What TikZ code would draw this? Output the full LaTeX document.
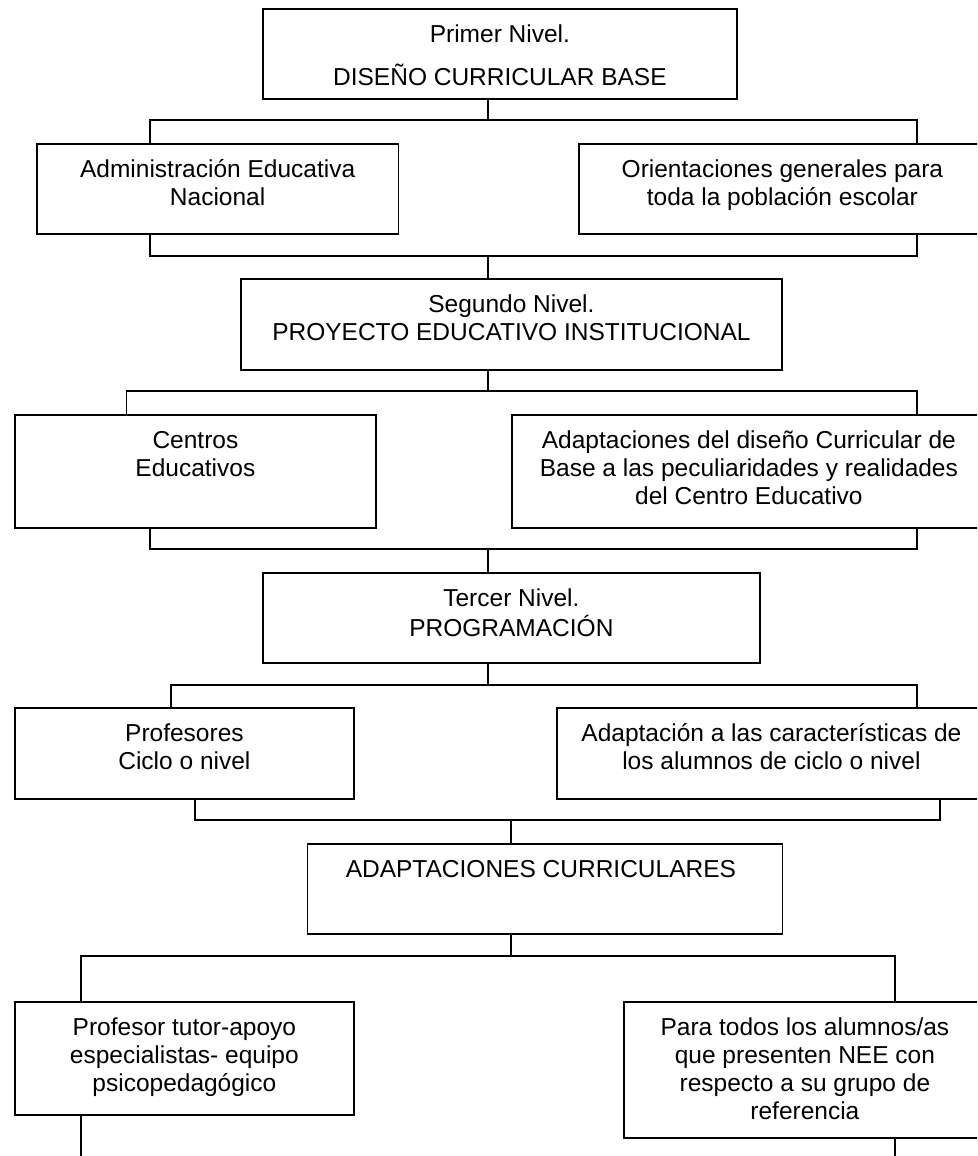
\documentclass[tikz,border=0pt]{standalone}
\usepackage{fontspec}
\setmainfont{Liberation Sans}
% fixed-height strut so every text line sits on a 28pt grid
\newcommand\lnstrut{\rule[-8pt]{0pt}{28pt}}
\begin{document}
\begin{tikzpicture}[x=1pt,y=-1pt,
  box/.style={draw, line width=1.8pt, rectangle, inner sep=0pt, anchor=north west},
  txt/.style={anchor=north, inner sep=0pt, align=center,
              font=\fontsize{24.5}{28}\selectfont},
  conn/.style={line width=1.4pt}]
\path[use as bounding box, clip] (0,0) rectangle (977,1156);
\fill[white] (0,0) rectangle (977,1156);

% ---------- boxes ----------
\node[box, minimum width=474pt, minimum height=90pt]  (lvl1) at (262,8) {};
\node[box, minimum width=361.5pt, minimum height=90pt] (adm) at (36,143) {};
\node[box, minimum width=407pt, minimum height=90pt]  (ori) at (578,143) {};
\node[box, minimum width=541pt, minimum height=91pt]  (lvl2) at (240,278) {};
\node[box, minimum width=361pt, minimum height=113pt] (cen) at (14,414) {};
\node[box, minimum width=474pt, minimum height=113pt] (adc) at (511,414) {};
\node[box, minimum width=497pt, minimum height=90pt]  (lvl3) at (262,572) {};
\node[box, minimum width=339pt, minimum height=91pt]  (pro) at (14,707) {};
\node[box, minimum width=429pt, minimum height=91pt]  (ada) at (556,707) {};
\node[box, minimum width=475pt, minimum height=90pt]  (acu) at (306.5,843) {};
\node[box, minimum width=339pt, minimum height=113pt] (tut) at (14,1001) {};
\node[box, minimum width=362pt, minimum height=136pt] (nee) at (623,1001) {};

% ---------- texts ----------
\node[txt] (lvl1t) at ([yshift=-14pt]lvl1.north)
  {\lnstrut Primer Nivel.\\[13pt]\lnstrut DISEÑO CURRICULAR BASE};
\node[txt] (admt) at ([yshift=-14pt]adm.north)
  {\lnstrut Administración Educativa\\\lnstrut Nacional};
\node[txt] (orit) at ([yshift=-14pt]ori.north)
  {\lnstrut Orientaciones generales para\\\lnstrut toda la población escolar};
\node[txt] (lvl2t) at ([yshift=-14pt]lvl2.north)
  {\lnstrut Segundo Nivel.\\\lnstrut PROYECTO EDUCATIVO INSTITUCIONAL};
\node[txt] (cent) at ([yshift=-14pt]cen.north)
  {\lnstrut Centros\\\lnstrut Educativos};
\node[txt] (adct) at ([yshift=-14pt]adc.north)
  {\lnstrut Adaptaciones del diseño Curricular de\\\lnstrut Base a las peculiaridades y realidades\\\lnstrut del Centro Educativo};
\node[txt] (lvl3t) at ([yshift=-14pt]lvl3.north)
  {\lnstrut Tercer Nivel.\\\lnstrut PROGRAMACIÓN};
\node[txt] (prot) at ([yshift=-14pt]pro.north)
  {\lnstrut Profesores\\\lnstrut Ciclo o nivel};
\node[txt] (adat) at ([yshift=-14pt]ada.north)
  {\lnstrut Adaptación a las características de\\\lnstrut los alumnos de ciclo o nivel};
\node[txt] (acut) at ([yshift=-14pt,xshift=-4pt]acu.north)
  {\lnstrut ADAPTACIONES CURRICULARES};
\node[txt] (tutt) at ([yshift=-14pt]tut.north)
  {\lnstrut Profesor tutor-apoyo\\\lnstrut especialistas- equipo\\\lnstrut psicopedagógico};
\node[txt] (neet) at ([yshift=-14pt]nee.north)
  {\lnstrut Para todos los alumnos/as\\\lnstrut que presenten NEE con\\\lnstrut respecto a su grupo de\\\lnstrut referencia};

% ---------- junction points of the bus lines ----------
\coordinate (s1) at (488,120);  \coordinate (s1l) at (150,120);  \coordinate (s1r) at (917,120);
\coordinate (m1) at (488,256);  \coordinate (m1l) at (150,256);  \coordinate (m1r) at (917,256);
\coordinate (s2) at (488,391);  \coordinate (s2l) at (126.5,391); \coordinate (s2r) at (917,391);
\coordinate (m2) at (488,549);  \coordinate (m2l) at (150,549);  \coordinate (m2r) at (917,549);
\coordinate (s3) at (488,685);  \coordinate (s3l) at (171,685);  \coordinate (s3r) at (917,685);
\coordinate (m3) at (511,820);  \coordinate (m3l) at (195,820);  \coordinate (m3r) at (940,820);
\coordinate (s4) at (511,956);  \coordinate (s4l) at (81,956);   \coordinate (s4r) at (895,956);
\coordinate (e4l) at (81,1162); \coordinate (e4r) at (895,1162);

% ---------- connectors ----------
\draw[conn] (lvl1.south -| s1) -- (s1);
\draw[conn] (adm.north -| s1l) -- (s1l) -- (s1r) -- (ori.north -| s1r);
\draw[conn] (adm.south -| m1l) -- (m1l) -- (m1r) -- (ori.south -| m1r);
\draw[conn] (m1) -- (lvl2.north -| m1);

\draw[conn] (lvl2.south -| s2) -- (s2);
\draw[conn] (cen.north -| s2l) -- (s2l) -- (s2r) -- (adc.north -| s2r);
\draw[conn] (cen.south -| m2l) -- (m2l) -- (m2r) -- (adc.south -| m2r);
\draw[conn] (m2) -- (lvl3.north -| m2);

\draw[conn] (lvl3.south -| s3) -- (s3);
\draw[conn] (pro.north -| s3l) -- (s3l) -- (s3r) -- (ada.north -| s3r);
\draw[conn] (pro.south -| m3l) -- (m3l) -- (m3r) -- (ada.south -| m3r);
\draw[conn] (m3) -- (acu.north -| m3);

\draw[conn] (acu.south -| s4) -- (s4);
\draw[conn] (tut.north -| s4l) -- (s4l) -- (s4r) -- (nee.north -| s4r);
\draw[conn] (tut.south -| e4l) -- (e4l);
\draw[conn] (nee.south -| e4r) -- (e4r);
\end{tikzpicture}
\end{document}
